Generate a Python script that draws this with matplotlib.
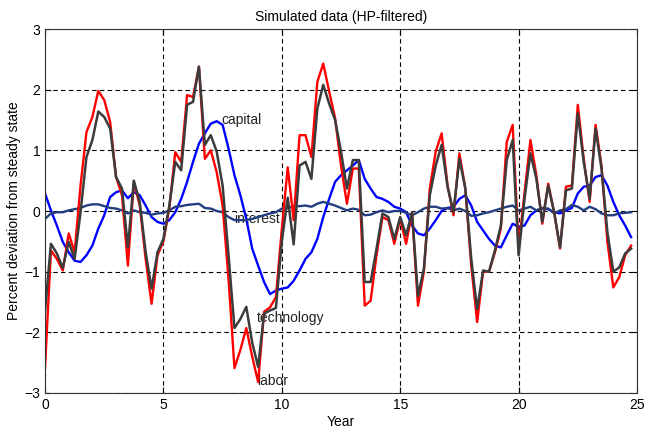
import numpy as np
import matplotlib.pyplot as plt

plt.rcParams['font.family'] = ['Liberation Sans', 'DejaVu Sans']

# quarterly observations, years 0 .. 24.75
years = np.arange(0, 25, 0.25)

labor = [
    -2.58, -0.65, -0.79, -0.98, -0.37, -0.68, 0.42, 1.30, 1.55, 1.98,
    1.83, 1.47, 0.56, 0.26, -0.90, 0.48, 0.09, -0.79, -1.53, -0.73,
    -0.50, 0.05, 0.97, 0.81, 1.91, 1.88, 2.38, 0.86, 1.00, 0.64,
    0.09, -1.12, -2.59, -2.29, -1.93, -2.40, -2.82, -1.66, -1.59, -1.42,
    -0.30, 0.72, -0.15, 1.25, 1.25, 0.89, 2.13, 2.43, 1.97, 1.53,
    0.75, 0.12, 0.70, 0.70, -1.56, -1.48, -0.73, -0.10, -0.15, -0.54,
    -0.13, -0.54, -0.02, -1.56, -1.00, 0.37, 0.98, 1.28, 0.42, -0.07,
    0.95, 0.37, -0.90, -1.83, -1.00, -1.00, -0.68, -0.29, 1.14, 1.42,
    -0.60, 0.30, 1.17, 0.59, -0.21, 0.45, -0.02, -0.62, 0.40, 0.42,
    1.75, 0.86, 0.15, 1.42, 0.75, -0.51, -1.26, -1.09, -0.73, -0.57,
]

technology = [
    -1.65, -0.54, -0.70, -0.94, -0.51, -0.79, -0.02, 0.89, 1.17, 1.64,
    1.55, 1.36, 0.56, 0.37, -0.60, 0.50, 0.15, -0.68, -1.28, -0.68,
    -0.46, 0.09, 0.81, 0.67, 1.75, 1.80, 2.38, 1.09, 1.25, 0.98,
    0.42, -0.73, -1.93, -1.78, -1.58, -2.17, -2.57, -1.69, -1.64, -1.60,
    -0.50, 0.22, -0.55, 0.75, 0.81, 0.53, 1.69, 2.08, 1.77, 1.50,
    0.98, 0.37, 0.84, 0.84, -1.17, -1.17, -0.62, -0.04, -0.10, -0.46,
    -0.10, -0.40, -0.02, -1.40, -0.95, 0.26, 0.75, 1.09, 0.40, -0.02,
    0.86, 0.37, -0.79, -1.62, -0.98, -1.00, -0.65, -0.24, 0.84, 1.17,
    -0.73, 0.20, 0.95, 0.53, -0.18, 0.42, -0.02, -0.60, 0.34, 0.37,
    1.61, 0.81, 0.20, 1.36, 0.70, -0.35, -1.00, -0.93, -0.70, -0.62,
]

capital = [
    0.29, 0.01, -0.24, -0.51, -0.68, -0.82, -0.84, -0.73, -0.57, -0.29,
    -0.07, 0.23, 0.31, 0.34, 0.21, 0.31, 0.26, 0.09, -0.10, -0.18,
    -0.21, -0.15, -0.02, 0.20, 0.48, 0.81, 1.11, 1.28, 1.44, 1.48,
    1.42, 1.03, 0.59, 0.26, -0.13, -0.62, -0.90, -1.17, -1.37, -1.31,
    -1.28, -1.26, -1.15, -0.98, -0.79, -0.68, -0.46, -0.10, 0.20, 0.48,
    0.59, 0.67, 0.75, 0.84, 0.53, 0.37, 0.23, 0.20, 0.15, 0.07,
    0.04, -0.02, -0.24, -0.37, -0.40, -0.29, -0.15, 0.00, 0.05, 0.07,
    0.20, 0.26, 0.09, -0.18, -0.32, -0.46, -0.57, -0.60, -0.40, -0.21,
    -0.26, -0.24, -0.07, 0.01, 0.04, 0.03, -0.02, -0.04, 0.01, 0.05,
    0.29, 0.40, 0.42, 0.56, 0.59, 0.42, 0.15, -0.07, -0.24, -0.43,
]

interest = [
    -0.13, -0.04, -0.02, -0.02, 0.01, 0.03, 0.05, 0.09, 0.11, 0.11,
    0.08, 0.05, 0.04, 0.01, -0.04, 0.01, -0.02, -0.03, -0.06, -0.04,
    -0.03, 0.01, 0.07, 0.08, 0.10, 0.11, 0.12, 0.05, 0.04, 0.00,
    -0.02, -0.10, -0.15, -0.15, -0.15, -0.13, -0.10, -0.07, -0.04, -0.02,
    0.04, 0.05, 0.08, 0.08, 0.09, 0.07, 0.12, 0.15, 0.12, 0.09,
    0.05, 0.01, 0.04, 0.02, -0.07, -0.06, -0.02, 0.01, -0.02, 0.00,
    0.00, -0.03, -0.07, -0.02, 0.04, 0.07, 0.07, 0.04, 0.05, 0.01,
    0.04, 0.00, -0.08, -0.07, -0.04, -0.02, 0.01, 0.04, 0.07, 0.09,
    0.01, 0.04, 0.07, 0.01, 0.05, 0.04, -0.04, 0.01, 0.03, 0.10,
    0.07, 0.01, 0.07, 0.03, -0.04, -0.07, -0.07, -0.04, -0.03, -0.02,
]

# label text and anchor point (year, value) for each series
label_names = ['capital', 'interest', 'technology', 'labor']
label_pos = [(7.45, 1.50), (8.0, -0.13), (8.95, -1.77), (8.95, -2.80)]

my_dpi = 100
fig = plt.figure(figsize=(645 / my_dpi, 428 / my_dpi), dpi=my_dpi)
ax = fig.add_axes([0.0698, 0.0818, 0.9178, 0.8504])

# labels sit under the lines, as in the original
for name, (x, y) in zip(label_names, label_pos):
    ax.text(x, y, name, fontsize=10, color='#222222', ha='left', va='center', zorder=1.8)

ax.plot(years, capital, color='#0000ff', lw=1.7)
ax.plot(years, interest, color='#203e80', lw=1.7)
ax.plot(years, labor, color='#ff0000', lw=1.7)
ax.plot(years, technology, color='#3c3c3c', lw=1.8)

ax.set_xlim(0, 25)
ax.set_ylim(-3, 3)
ax.set_xticks(np.arange(0, 26, 5))
ax.set_yticks(np.arange(-3, 4, 1))
ax.grid(True, color='black', linestyle=(0, (4, 3)), linewidth=0.8)
ax.tick_params(direction='in', top=True, right=True, labelsize=10, length=4)
for s in ax.spines.values():
    s.set_color('#333333')

ax.set_title('Simulated data (HP-filtered)', fontsize=10, pad=6)
ax.set_xlabel('Year', fontsize=10, labelpad=2)
ax.set_ylabel('Percent deviation from steady state', fontsize=10, labelpad=2)

fig.savefig('out.png', dpi=my_dpi)
